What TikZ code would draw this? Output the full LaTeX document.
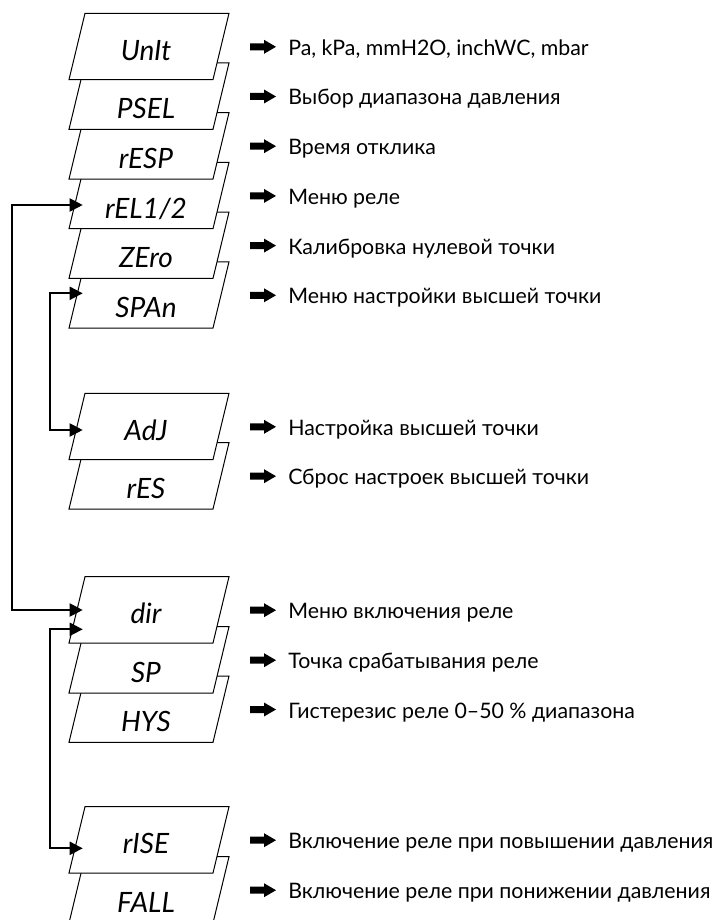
\documentclass[tikz,border=0pt]{standalone}
\usepackage{fontspec}
\setmainfont{Lato}
\usetikzlibrary{arrows.meta}
\newcommand\menubox[4]{%
  \filldraw[boxshape] (85,#2) -- (229,#2) -- (213,#2+66.3) -- (69,#2+66.3) -- cycle;
  \node[boxlabel] (#1) at (146,#2+#4) {#3};
}
\newcommand\menudesc[3]{%
  \fill[pointer] (250,#2+30) -- (264,#2+30) -- (264,#2+26.5) -- (276,#2+33.5) -- (264,#2+40.5) -- (264,#2+37) -- (250,#2+37) -- cycle;
  \node[desc] (#1) at (288,#2+42) {#3};
}
\begin{document}
\begin{tikzpicture}[x=0.75pt,y=-0.75pt,
  boxshape/.style={draw=black, line width=0.75pt, fill=white, line join=miter},
  boxlabel/.style={font=\fontsize{21}{24}\selectfont\itshape, anchor=base, inner sep=0pt},
  desc/.style={font=\fontsize{16}{19}\selectfont, anchor=base west, inner sep=0pt},
  pointer/.style={fill=black},
  conn/.style={line width=1.5pt, line join=miter,
    {Triangle[length=9.75pt,width=9.75pt]}-{Triangle[length=9.75pt,width=9.75pt]}}]
\useasboundingbox (0,0) rectangle (717,920);
% group 1
\menubox{span}{261.8}{SPAn}{55.8}
\menubox{zero}{212.1}{ZEro}{55.8}
\menubox{rel}{162.4}{rEL1/2}{55.8}
\menubox{resp}{112.7}{rESP}{55.8}
\menubox{psel}{63}{PSEL}{55.8}
\menubox{unit}{13.3}{UnIt}{46.8}
% group 2
\menubox{res}{442.7}{rES}{55.8}
\menubox{adj}{393.3}{AdJ}{46.8}
% group 3
\menubox{hys}{676}{HYS}{55.8}
\menubox{sp}{626.7}{SP}{55.8}
\menubox{dir}{576.7}{dir}{46.8}
% group 4
\menubox{fall}{856.7}{FALL}{55.8}
\menubox{rise}{806.7}{rISE}{46.8}
% descriptions
\menudesc{dunit}{13.3}{Pa, kPa, mmH2O, inchWC, mbar}
\menudesc{dpsel}{63}{Выбор диапазона давления}
\menudesc{dresp}{112.7}{Время отклика}
\menudesc{drel}{162.4}{Меню реле}
\menudesc{dzero}{212.1}{Калибровка нулевой точки}
\menudesc{dspan}{261.8}{Меню настройки высшей точки}
\menudesc{dadj}{393.3}{Настройка высшей точки}
\menudesc{dres}{442.7}{Сброс настроек высшей точки}
\menudesc{ddir}{576.7}{Меню включения реле}
\menudesc{dsp}{626.7}{Точка срабатывания реле}
\menudesc{dhys}{676}{Гистерезис реле 0–50 \% диапазона}
\menudesc{drise}{806.7}{Включение реле при повышении давления}
\menudesc{dfall}{856.7}{Включение реле при понижении давления}
% connector ends
\coordinate (relIn) at (82.7,205);
\coordinate (dirInA) at (82.7,610);
\coordinate (spanIn) at (82.7,293.3);
\coordinate (adjIn) at (82.7,430);
\coordinate (dirInB) at (82.7,629.3);
\coordinate (riseIn) at (82.7,848.3);
\draw[conn] (relIn) -- ++(-70.4,0) |- (dirInA);
\draw[conn] (spanIn) -- ++(-32.7,0) |- (adjIn);
\draw[conn] (dirInB) -- ++(-32.7,0) |- (riseIn);
\end{tikzpicture}
\end{document}
